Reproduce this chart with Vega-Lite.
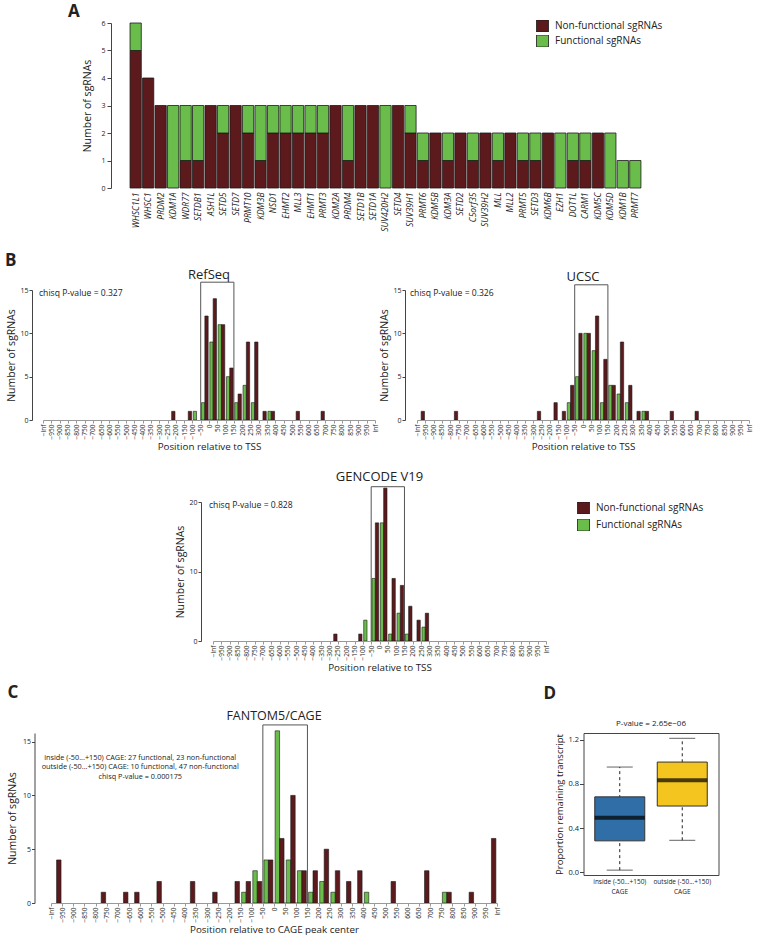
{
"$schema": "https://vega.github.io/schema/vega-lite/v6.json",
"background": "white",
"padding": {"left": 0, "top": 3, "right": 0, "bottom": 0},
"config": {
  "view": {"stroke": null},
  "font": "Open Sans",
  "axis": {"grid": false, "domainColor": "#444", "tickColor": "#444", "labelColor": "#222", "titleColor": "#222", "titleFontWeight": "normal", "labelFont": "Open Sans", "titleFont": "Open Sans"},
  "title": {"font": "Open Sans", "fontWeight": "normal", "color": "#222"},
  "legend": {"labelFont": "Open Sans", "labelColor": "#222"},
  "text": {"font": "Open Sans", "color": "#222"}
},
"resolve": {"scale": {"color": "independent"}, "legend": {"color": "independent"}},
"spacing": 19,
"vconcat": [
  {
    "spacing": 0,
    "resolve": {"scale": {"color": "independent"}, "legend": {"color": "independent"}},
    "hconcat": [
      {"width": 67, "height": 1, "data": {"values": [{}]}, "mark": {"type": "point", "opacity": 0}},
      {
        "title": {"text": "A", "anchor": "start", "dx": -15, "fontSize": 17, "fontWeight": "bold", "offset": -2},
        "width": 535, "height": 165,
        "data": {"values": [
          {"gene": "WHSC1L1", "nf": 5, "f": 1}, {"gene": "WHSC1", "nf": 4, "f": 0}, {"gene": "PRDM2", "nf": 3, "f": 0},
          {"gene": "KDM1A", "nf": 0, "f": 3}, {"gene": "WDR77", "nf": 1, "f": 2}, {"gene": "SETDB1", "nf": 1, "f": 2},
          {"gene": "ASH1L", "nf": 3, "f": 0}, {"gene": "SETD5", "nf": 2, "f": 1}, {"gene": "SETD7", "nf": 3, "f": 0},
          {"gene": "PRMT10", "nf": 2, "f": 1}, {"gene": "KDM3B", "nf": 1, "f": 2}, {"gene": "NSD1", "nf": 2, "f": 1},
          {"gene": "EHMT2", "nf": 2, "f": 1}, {"gene": "MLL3", "nf": 2, "f": 1}, {"gene": "EHMT1", "nf": 2, "f": 1},
          {"gene": "PRMT3", "nf": 2, "f": 1}, {"gene": "KDM2A", "nf": 3, "f": 0}, {"gene": "PRDM4", "nf": 1, "f": 2},
          {"gene": "SETD1B", "nf": 3, "f": 0}, {"gene": "SETD1A", "nf": 3, "f": 0}, {"gene": "SUV420H2", "nf": 0, "f": 3},
          {"gene": "SETD4", "nf": 3, "f": 0}, {"gene": "SUV39H1", "nf": 2, "f": 1}, {"gene": "PRMT6", "nf": 1, "f": 1},
          {"gene": "KDM5B", "nf": 2, "f": 0}, {"gene": "KDM3A", "nf": 1, "f": 1}, {"gene": "SETD2", "nf": 2, "f": 0},
          {"gene": "C5orf35", "nf": 1, "f": 1}, {"gene": "SUV39H2", "nf": 2, "f": 0}, {"gene": "MLL", "nf": 1, "f": 1},
          {"gene": "MLL2", "nf": 2, "f": 0}, {"gene": "PRMT5", "nf": 1, "f": 1}, {"gene": "SETD3", "nf": 1, "f": 1},
          {"gene": "KDM6B", "nf": 2, "f": 0}, {"gene": "EZH1", "nf": 0, "f": 2}, {"gene": "DOT1L", "nf": 1, "f": 1},
          {"gene": "CARM1", "nf": 1, "f": 1}, {"gene": "KDM5C", "nf": 2, "f": 0}, {"gene": "KDM5D", "nf": 0, "f": 2},
          {"gene": "KDM1B", "nf": 0, "f": 1}, {"gene": "PRMT7", "nf": 0, "f": 1}
        ]},
        "transform": [{"fold": ["nf", "f"], "as": ["t", "n"]}, {"filter": "datum.n > 0"}],
        "mark": {"type": "bar", "stroke": "#1a1a1a", "strokeWidth": 0.8},
        "encoding": {
          "x": {"field": "gene", "type": "nominal",
            "sort": ["WHSC1L1","WHSC1","PRDM2","KDM1A","WDR77","SETDB1","ASH1L","SETD5","SETD7","PRMT10","KDM3B","NSD1","EHMT2","MLL3","EHMT1","PRMT3","KDM2A","PRDM4","SETD1B","SETD1A","SUV420H2","SETD4","SUV39H1","PRMT6","KDM5B","KDM3A","SETD2","C5orf35","SUV39H2","MLL","MLL2","PRMT5","SETD3","KDM6B","EZH1","DOT1L","CARM1","KDM5C","KDM5D","KDM1B","PRMT7"],
            "scale": {"paddingInner": 0.1, "paddingOuter": 0.965, "align": 0.79},
            "axis": {"title": null, "labelAngle": -90, "labelFontStyle": "italic", "labelFontSize": 8.5, "labelPadding": 4, "domain": false, "ticks": false, "labelOverlap": false}},
          "y": {"field": "n", "type": "quantitative", "stack": "zero", "scale": {"domain": [0, 6], "nice": false},
            "axis": {"title": "Number of sgRNAs", "values": [0,1,2,3,4,5,6], "tickSize": 4, "labelPadding": 2, "titlePadding": 8, "labelFontSize": 7, "titleFontSize": 10.5}},
          "color": {"field": "t", "type": "nominal", "scale": {"domain": ["nf", "f"], "range": ["#5c1a1d", "#6abd4b"]},
            "legend": {"orient": "none", "legendX": 425, "legendY": -3, "title": null, "padding": 0, "symbolType": "square", "symbolSize": 144, "symbolStrokeColor": "#1a1a1a", "symbolStrokeWidth": 0.8, "labelFontSize": 10, "labelOffset": 6, "rowPadding": 3, "clipHeight": 12,
              "labelExpr": "datum.value == 'nf' ? 'Non-functional sgRNAs' : 'Functional sgRNAs'"}},
          "order": {"field": "t", "type": "nominal", "sort": "descending"}
        }
      }
    ]
  },
  {
    "title": {"text": "B", "anchor": "start", "dx": 5, "fontSize": 17, "fontWeight": "bold", "offset": -1},
    "spacing": 0,
    "resolve": {"scale": {"color": "independent"}, "legend": {"color": "independent"}},
    "hconcat": [
      {"width": 6, "height": 1, "data": {"values": [{}]}, "mark": {"type": "point", "opacity": 0}},
      {
        "title": {"text": "RefSeq", "fontSize": 13, "offset": 0},
        "width": 332, "height": 130,
        "layer": [
          {
            "data": {"values": [{"lo": "−50", "hi": "150", "top": 15.9, "at": "−Inf", "note": "chisq P-value = 0.327"}]},
            "layer": [
              {"mark": {"type": "rect", "fillOpacity": 0, "stroke": "#555", "strokeWidth": 1},
               "encoding": {
                 "x": {"field": "lo", "type": "ordinal", "scale": {"type": "point", "padding": 0, "domain": ["−Inf","−950","−900","−850","−800","−750","−700","−650","−600","−550","−500","−450","−400","−350","−300","−250","−200","−150","−100","−50","0","50","100","150","200","250","300","350","400","450","500","550","600","650","700","750","800","850","900","950","Inf"]},
                   "axis": {"title": "Position relative to TSS", "orient": "bottom", "labelAngle": -90, "labelFontSize": 6.5, "labelPadding": 1, "tickSize": 3, "titleFontSize": 9.8, "titlePadding": 3, "labelOverlap": false, "domainColor": "#999", "tickColor": "#999"}},
                 "x2": {"field": "hi"},
                 "y": {"field": "top", "type": "quantitative", "scale": {"domain": [0, 15], "nice": false},
                   "axis": {"title": "Number of sgRNAs", "values": [0,5,10,15], "offset": 11, "tickSize": 3, "labelPadding": 1, "titlePadding": 3, "labelFontSize": 7, "titleFontSize": 10.5}},
                 "y2": {"datum": 0}
               }},
              {"mark": {"type": "text", "align": "left", "baseline": "middle", "dx": -4, "fontSize": 8.6},
               "encoding": {
                 "x": {"field": "at", "type": "ordinal"},
                 "y": {"datum": 14.6, "type": "quantitative"},
                 "text": {"field": "note", "type": "nominal"}
               }}
            ]
          },
          {
            "data": {"values": [
              {"lo": "−250", "f": 0, "nf": 1}, {"lo": "−150", "f": 0, "nf": 1}, {"lo": "−100", "f": 1, "nf": 0},
              {"lo": "−50", "f": 2, "nf": 12}, {"lo": "0", "f": 9, "nf": 14}, {"lo": "50", "f": 11, "nf": 11},
              {"lo": "100", "f": 5, "nf": 6}, {"lo": "150", "f": 2, "nf": 3}, {"lo": "200", "f": 4, "nf": 9},
              {"lo": "250", "f": 2, "nf": 9}, {"lo": "300", "f": 0, "nf": 1}, {"lo": "350", "f": 1, "nf": 1},
              {"lo": "500", "f": 0, "nf": 1}, {"lo": "650", "f": 0, "nf": 1}
            ]},
            "transform": [{"fold": ["f", "nf"], "as": ["t", "n"]}, {"filter": "datum.n > 0"}],
            "encoding": {
              "x": {"field": "lo", "type": "ordinal", "axis": null, "scale": {"type": "band", "paddingInner": 0.2, "paddingOuter": 0.1, "domain": ["−Inf","−950","−900","−850","−800","−750","−700","−650","−600","−550","−500","−450","−400","−350","−300","−250","−200","−150","−100","−50","0","50","100","150","200","250","300","350","400","450","500","550","600","650","700","750","800","850","900","950"]}},
              "y": {"field": "n", "type": "quantitative"},
              "color": {"field": "t", "type": "nominal", "scale": {"domain": ["nf", "f"], "range": ["#5c1a1d", "#6abd4b"]}, "legend": null}
            },
            "layer": [
              {"transform": [{"filter": "datum.t == 'f'"}], "mark": {"type": "bar", "stroke": "#1a1a1a", "strokeWidth": 0.6, "width": {"band": 0.5}, "xOffset": -1.66}},
              {"transform": [{"filter": "datum.t == 'nf'"}], "mark": {"type": "bar", "stroke": "#1a1a1a", "strokeWidth": 0.6, "width": {"band": 0.5}, "xOffset": 1.66}}
            ]
          }
        ],
        "resolve": {"scale": {"x": "independent"}}
      },
      {
        "title": {"text": "UCSC", "fontSize": 13, "offset": 0},
        "width": 332, "height": 130,
        "layer": [
          {
            "data": {"values": [{"lo": "−50", "hi": "150", "top": 15.6, "at": "−Inf", "note": "chisq P-value = 0.326"}]},
            "layer": [
              {"mark": {"type": "rect", "fillOpacity": 0, "stroke": "#555", "strokeWidth": 1},
               "encoding": {
                 "x": {"field": "lo", "type": "ordinal", "scale": {"type": "point", "padding": 0, "domain": ["−Inf","−950","−900","−850","−800","−750","−700","−650","−600","−550","−500","−450","−400","−350","−300","−250","−200","−150","−100","−50","0","50","100","150","200","250","300","350","400","450","500","550","600","650","700","750","800","850","900","950","Inf"]},
                   "axis": {"title": "Position relative to TSS", "orient": "bottom", "labelAngle": -90, "labelFontSize": 6.5, "labelPadding": 1, "tickSize": 3, "titleFontSize": 9.8, "titlePadding": 3, "labelOverlap": false, "domainColor": "#999", "tickColor": "#999"}},
                 "x2": {"field": "hi"},
                 "y": {"field": "top", "type": "quantitative", "scale": {"domain": [0, 15], "nice": false},
                   "axis": {"title": "Number of sgRNAs", "values": [0,5,10,15], "offset": 12, "tickSize": 3, "labelPadding": 1, "titlePadding": 3, "labelFontSize": 7, "titleFontSize": 10.5}},
                 "y2": {"datum": 0}
               }},
              {"mark": {"type": "text", "align": "left", "baseline": "middle", "dx": -7, "fontSize": 8.6},
               "encoding": {
                 "x": {"field": "at", "type": "ordinal"},
                 "y": {"datum": 14.6, "type": "quantitative"},
                 "text": {"field": "note", "type": "nominal"}
               }}
            ]
          },
          {
            "data": {"values": [
              {"lo": "−Inf", "f": 0, "nf": 1}, {"lo": "−800", "f": 0, "nf": 1}, {"lo": "−300", "f": 0, "nf": 1},
              {"lo": "−200", "f": 0, "nf": 2}, {"lo": "−150", "f": 0, "nf": 1}, {"lo": "−100", "f": 2, "nf": 4},
              {"lo": "−50", "f": 5, "nf": 10}, {"lo": "0", "f": 10, "nf": 10}, {"lo": "50", "f": 8, "nf": 12},
              {"lo": "100", "f": 2, "nf": 7}, {"lo": "150", "f": 4, "nf": 4}, {"lo": "200", "f": 3, "nf": 9},
              {"lo": "250", "f": 2, "nf": 4}, {"lo": "300", "f": 0, "nf": 1}, {"lo": "350", "f": 1, "nf": 1},
              {"lo": "500", "f": 0, "nf": 1}, {"lo": "650", "f": 0, "nf": 1}
            ]},
            "transform": [{"fold": ["f", "nf"], "as": ["t", "n"]}, {"filter": "datum.n > 0"}],
            "encoding": {
              "x": {"field": "lo", "type": "ordinal", "axis": null, "scale": {"type": "band", "paddingInner": 0.2, "paddingOuter": 0.1, "domain": ["−Inf","−950","−900","−850","−800","−750","−700","−650","−600","−550","−500","−450","−400","−350","−300","−250","−200","−150","−100","−50","0","50","100","150","200","250","300","350","400","450","500","550","600","650","700","750","800","850","900","950"]}},
              "y": {"field": "n", "type": "quantitative"},
              "color": {"field": "t", "type": "nominal", "scale": {"domain": ["nf", "f"], "range": ["#5c1a1d", "#6abd4b"]}, "legend": null}
            },
            "layer": [
              {"transform": [{"filter": "datum.t == 'f'"}], "mark": {"type": "bar", "stroke": "#1a1a1a", "strokeWidth": 0.6, "width": {"band": 0.5}, "xOffset": -1.66}},
              {"transform": [{"filter": "datum.t == 'nf'"}], "mark": {"type": "bar", "stroke": "#1a1a1a", "strokeWidth": 0.6, "width": {"band": 0.5}, "xOffset": 1.66}}
            ]
          }
        ],
        "resolve": {"scale": {"x": "independent"}}
      }
    ]
  },
  {
    "spacing": 10,
    "resolve": {"scale": {"color": "independent"}, "legend": {"color": "independent"}},
    "vconcat": [
      {
        "spacing": 0,
        "resolve": {"scale": {"color": "independent"}, "legend": {"color": "independent"}},
        "hconcat": [
          {"width": 175, "height": 1, "data": {"values": [{}]}, "mark": {"type": "point", "opacity": 0}},
          {
            "title": {"text": "GENCODE V19", "fontSize": 13, "offset": 2},
            "width": 333, "height": 139,
            "layer": [
              {
                "data": {"values": [{"lo": "−50", "hi": "150", "top": 22.2, "at": "−Inf", "note": "chisq P-value = 0.828"}]},
                "layer": [
                  {"mark": {"type": "rect", "fillOpacity": 0, "stroke": "#555", "strokeWidth": 1},
                   "encoding": {
                     "x": {"field": "lo", "type": "ordinal", "scale": {"type": "point", "padding": 0, "domain": ["−Inf","−950","−900","−850","−800","−750","−700","−650","−600","−550","−500","−450","−400","−350","−300","−250","−200","−150","−100","−50","0","50","100","150","200","250","300","350","400","450","500","550","600","650","700","750","800","850","900","950","Inf"]},
                       "axis": {"title": "Position relative to TSS", "orient": "bottom", "labelAngle": -90, "labelFontSize": 6.5, "labelPadding": 1, "tickSize": 3, "titleFontSize": 9.8, "titlePadding": 3, "labelOverlap": false, "domainColor": "#999", "tickColor": "#999"}},
                     "x2": {"field": "hi"},
                     "y": {"field": "top", "type": "quantitative", "scale": {"domain": [0, 20], "nice": false},
                       "axis": {"title": "Number of sgRNAs", "values": [0,5,10,15,20], "offset": 12, "tickSize": 3, "labelPadding": 1, "titlePadding": 3, "labelFontSize": 7, "titleFontSize": 10.5}},
                     "y2": {"datum": 0}
                   }},
                  {"mark": {"type": "text", "align": "left", "baseline": "middle", "dx": -4, "fontSize": 8.6},
                   "encoding": {
                     "x": {"field": "at", "type": "ordinal"},
                     "y": {"datum": 19.5, "type": "quantitative"},
                     "text": {"field": "note", "type": "nominal"}
                   }}
                ]
              },
              {
                "data": {"values": [
                  {"lo": "−300", "f": 0, "nf": 1}, {"lo": "−150", "f": 0, "nf": 1}, {"lo": "−100", "f": 3, "nf": 0},
                  {"lo": "−50", "f": 9, "nf": 17}, {"lo": "0", "f": 17, "nf": 22}, {"lo": "50", "f": 1, "nf": 9},
                  {"lo": "100", "f": 4, "nf": 8}, {"lo": "150", "f": 1, "nf": 5}, {"lo": "200", "f": 0, "nf": 3},
                  {"lo": "250", "f": 2, "nf": 4}
                ]},
                "transform": [{"fold": ["f", "nf"], "as": ["t", "n"]}, {"filter": "datum.n > 0"}],
                "encoding": {
                  "x": {"field": "lo", "type": "ordinal", "axis": null, "scale": {"type": "band", "paddingInner": 0.2, "paddingOuter": 0.1, "domain": ["−Inf","−950","−900","−850","−800","−750","−700","−650","−600","−550","−500","−450","−400","−350","−300","−250","−200","−150","−100","−50","0","50","100","150","200","250","300","350","400","450","500","550","600","650","700","750","800","850","900","950"]}},
                  "y": {"field": "n", "type": "quantitative"},
                  "color": {"field": "t", "type": "nominal", "scale": {"domain": ["nf", "f"], "range": ["#5c1a1d", "#6abd4b"]},
                    "legend": {"orient": "right", "offset": 31, "title": null, "padding": 0, "symbolType": "square", "symbolSize": 144, "symbolStrokeColor": "#1a1a1a", "symbolStrokeWidth": 0.8, "labelFontSize": 10, "labelOffset": 6, "rowPadding": 5, "clipHeight": 12,
                      "labelExpr": "datum.value == 'nf' ? 'Non-functional sgRNAs' : 'Functional sgRNAs'"}}
                },
                "layer": [
                  {"transform": [{"filter": "datum.t == 'f'"}], "mark": {"type": "bar", "stroke": "#1a1a1a", "strokeWidth": 0.6, "width": {"band": 0.5}, "xOffset": -1.66}},
                  {"transform": [{"filter": "datum.t == 'nf'"}], "mark": {"type": "bar", "stroke": "#1a1a1a", "strokeWidth": 0.6, "width": {"band": 0.5}, "xOffset": 1.66}}
                ]
              }
            ],
            "resolve": {"scale": {"x": "independent"}}
          }
        ]
      },
      {
        "spacing": 0,
        "resolve": {"scale": {"color": "independent"}, "legend": {"color": "independent"}},
        "hconcat": [
          {"width": 6.5, "height": 1, "data": {"values": [{}]}, "mark": {"type": "point", "opacity": 0}},
          {
            "spacing": 41.5,
            "resolve": {"scale": {"color": "independent"}, "legend": {"color": "independent"}},
            "hconcat": [
              {
                "title": {"text": "C", "anchor": "start", "fontSize": 17, "fontWeight": "bold", "offset": 8},
                "resolve": {"scale": {"color": "independent"}, "legend": {"color": "independent"}},
                "vconcat": [
                  {
                    "title": {"text": "FANTOM5/CAGE", "fontSize": 12.5, "offset": 2},
                    "width": 446, "height": 170,
                    "layer": [
                      {
                        "data": {"values": [{"lo": "−50", "hi": "150", "top": 16.55, "at": "−600", "note": ["inside (-50...+150) CAGE: 27 functional, 23 non-functional", "outside (-50...+150) CAGE: 10 functional, 47 non-functional", "chisq P-value = 0.000175"]}]},
                        "layer": [
                          {"mark": {"type": "rect", "fillOpacity": 0, "stroke": "#555", "strokeWidth": 1},
                           "encoding": {
                             "x": {"field": "lo", "type": "ordinal", "scale": {"type": "point", "padding": 0, "domain": ["−Inf","−950","−900","−850","−800","−750","−700","−650","−600","−550","−500","−450","−400","−350","−300","−250","−200","−150","−100","−50","0","50","100","150","200","250","300","350","400","450","500","550","600","650","700","750","800","850","900","950","Inf"]},
                               "axis": {"title": "Position relative to CAGE peak center", "orient": "bottom", "labelAngle": -90, "labelFontSize": 6.5, "labelPadding": 1, "tickSize": 3, "titleFontSize": 9.8, "titlePadding": 3, "labelOverlap": false, "domainColor": "#999", "tickColor": "#999"}},
                             "x2": {"field": "hi"},
                             "y": {"field": "top", "type": "quantitative", "scale": {"domain": [0, 15.8], "nice": false},
                               "axis": {"title": "Number of sgRNAs", "values": [0,5,10,15], "offset": 16.5, "tickSize": 3, "labelPadding": 1, "titlePadding": 5, "labelFontSize": 7, "titleFontSize": 10.5}},
                             "y2": {"datum": 0}
                           }},
                          {"mark": {"type": "text", "align": "center", "baseline": "middle", "fontSize": 7.3, "lineHeight": 9.7},
                           "encoding": {
                             "x": {"field": "at", "type": "ordinal"},
                             "y": {"datum": 13.5, "type": "quantitative"},
                             "text": {"field": "note", "type": "nominal"}
                           }}
                        ]
                      },
                      {
                        "data": {"values": [
                          {"lo": "−Inf", "f": 0, "nf": 4}, {"lo": "−800", "f": 0, "nf": 1}, {"lo": "−700", "f": 0, "nf": 1},
                          {"lo": "−650", "f": 0, "nf": 1}, {"lo": "−550", "f": 0, "nf": 2}, {"lo": "−400", "f": 0, "nf": 2},
                          {"lo": "−300", "f": 0, "nf": 1}, {"lo": "−200", "f": 0, "nf": 2}, {"lo": "−150", "f": 1, "nf": 2},
                          {"lo": "−100", "f": 3, "nf": 2}, {"lo": "−50", "f": 4, "nf": 4}, {"lo": "0", "f": 16, "nf": 6},
                          {"lo": "50", "f": 4, "nf": 10}, {"lo": "100", "f": 3, "nf": 3}, {"lo": "150", "f": 1, "nf": 3},
                          {"lo": "200", "f": 2, "nf": 5}, {"lo": "250", "f": 1, "nf": 3}, {"lo": "300", "f": 0, "nf": 2},
                          {"lo": "350", "f": 0, "nf": 3}, {"lo": "400", "f": 1, "nf": 0}, {"lo": "500", "f": 0, "nf": 2},
                          {"lo": "650", "f": 0, "nf": 3}, {"lo": "750", "f": 1, "nf": 1}, {"lo": "850", "f": 0, "nf": 1},
                          {"lo": "950", "f": 0, "nf": 6}
                        ]},
                        "transform": [{"fold": ["f", "nf"], "as": ["t", "n"]}, {"filter": "datum.n > 0"}],
                        "encoding": {
                          "x": {"field": "lo", "type": "ordinal", "axis": null, "scale": {"type": "band", "paddingInner": 0.2, "paddingOuter": 0.1, "domain": ["−Inf","−950","−900","−850","−800","−750","−700","−650","−600","−550","−500","−450","−400","−350","−300","−250","−200","−150","−100","−50","0","50","100","150","200","250","300","350","400","450","500","550","600","650","700","750","800","850","900","950"]}},
                          "y": {"field": "n", "type": "quantitative"},
                          "color": {"field": "t", "type": "nominal", "scale": {"domain": ["nf", "f"], "range": ["#5c1a1d", "#6abd4b"]}, "legend": null}
                        },
                        "layer": [
                          {"transform": [{"filter": "datum.t == 'f'"}], "mark": {"type": "bar", "stroke": "#1a1a1a", "strokeWidth": 0.6, "width": {"band": 0.5}, "xOffset": -2.23}},
                          {"transform": [{"filter": "datum.t == 'nf'"}], "mark": {"type": "bar", "stroke": "#1a1a1a", "strokeWidth": 0.6, "width": {"band": 0.5}, "xOffset": 2.23}}
                        ]
                      }
                    ],
                    "resolve": {"scale": {"x": "independent"}}
                  }
                ]
              },
              {
                "title": {"text": "D", "anchor": "start", "dx": -11, "fontSize": 17, "fontWeight": "bold", "offset": 17},
                "vconcat": [
                  {
                    "title": {"text": "P-value = 2.65e−06", "fontSize": 8, "offset": 5},
                    "width": 135, "height": 142,
                    "view": {"stroke": "#444", "strokeWidth": 1},
                    "data": {"values": [
                      {"grp": "inside", "low": 0.02, "q1": 0.285, "med": 0.495, "q3": 0.683, "high": 0.953},
                      {"grp": "outside", "low": 0.29, "q1": 0.6, "med": 0.833, "q3": 0.998, "high": 1.213}
                    ]},
                    "encoding": {
                      "x": {"field": "grp", "type": "nominal", "scale": {"paddingInner": 0.2, "paddingOuter": 0.18},
                        "axis": {"title": null, "labelAngle": 0, "ticks": false, "domain": false, "labelPadding": 3, "labelFontSize": 6.5, "labelLineHeight": 10,
                          "labelExpr": "[datum.value == 'inside' ? 'inside (-50...+150)' : 'outside (-50...+150)', 'CAGE']"}}
                    },
                    "layer": [
                      {"mark": {"type": "rule", "strokeDash": [3, 3], "color": "#222"},
                       "encoding": {
                         "y": {"field": "low", "type": "quantitative", "scale": {"domain": [-0.024, 1.261], "nice": false, "zero": false},
                           "axis": {"title": "Proportion remaining transcript", "values": [0, 0.2, 0.4, 0.6, 0.8, 1.0, 1.2], "format": ".1f", "domain": false, "tickSize": 4, "labelPadding": 1, "titlePadding": 3, "labelFontSize": 7.5, "titleFontSize": 9.5}},
                         "y2": {"field": "high"}
                       }},
                      {"mark": {"type": "tick", "color": "#222", "thickness": 1, "size": 26},
                       "encoding": {"y": {"field": "low", "type": "quantitative"}}},
                      {"mark": {"type": "tick", "color": "#222", "thickness": 1, "size": 26},
                       "encoding": {"y": {"field": "high", "type": "quantitative"}}},
                      {"mark": {"type": "bar", "stroke": "#333", "strokeWidth": 1},
                       "encoding": {
                         "y": {"field": "q1", "type": "quantitative"},
                         "y2": {"field": "q3"},
                         "fill": {"field": "grp", "type": "nominal", "scale": {"range": ["#2f6ea6", "#f4c51f"]}, "legend": null}
                       }},
                      {"mark": {"type": "tick", "color": "#000", "thickness": 4, "size": 50},
                       "encoding": {"y": {"field": "med", "type": "quantitative"}}}
                    ]
                  }
                ]
              }
            ]
          }
        ]
      }
    ]
  }
]
}
